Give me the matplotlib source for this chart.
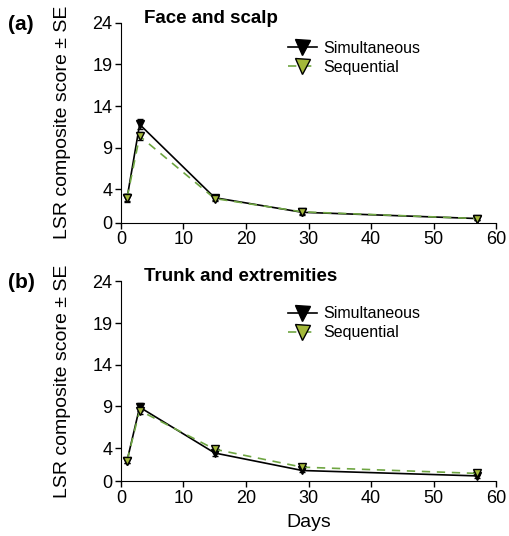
import numpy as np
import matplotlib.pyplot as plt

plt.rcParams['font.family'] = ['Liberation Sans', 'DejaVu Sans']

days = [1, 3, 15, 29, 57]

# Face and scalp
face_sim = [3.0, 11.8, 3.0, 1.25, 0.5]
face_sim_se = [0.5, 0.6, 0.3, 0.3, 0.2]
face_seq = [3.0, 10.4, 2.9, 1.3, 0.5]
face_seq_se = [0.4, 0.5, 0.3, 0.2, 0.2]

# Trunk and extremities
trunk_sim = [2.5, 8.9, 3.4, 1.3, 0.65]
trunk_sim_se = [0.3, 0.5, 0.3, 0.2, 0.2]
trunk_seq = [2.5, 8.5, 3.85, 1.7, 0.95]
trunk_seq_se = [0.3, 0.4, 0.3, 0.2, 0.2]

yticks = [0, 4, 9, 14, 19, 24]
green_face = '#a3b83a'
green_line = '#6fa642'

fig = plt.figure(figsize=(5.1, 5.36), dpi=100)
ax1 = fig.add_axes([0.237, 0.5845, 0.736, 0.373])
ax2 = fig.add_axes([0.237, 0.102, 0.736, 0.373])

panels = [
    (ax1, face_sim, face_sim_se, face_seq, face_seq_se, 'Face and scalp', '(a)', 0.91),
    (ax2, trunk_sim, trunk_sim_se, trunk_seq, trunk_seq_se, 'Trunk and extremities', '(b)', 0.875),
]

for ax, sim, sim_se, seq, seq_se, title, letter, leg_y in panels:
    ax.errorbar(days, sim, yerr=sim_se, color='black', lw=1.2, marker='v',
                ms=6, mfc='black', mec='black', capsize=2.5, elinewidth=1,
                label='Simultaneous', zorder=3)
    ax.errorbar(days, seq, yerr=seq_se, color=green_line, lw=1.2, ls=(0, (5, 4)),
                marker='v', ms=6, mfc=green_face, mec='black', mew=1,
                ecolor='black', capsize=2.5, elinewidth=1,
                label='Sequential', zorder=4)
    ax.set_xlim(0, 60)
    ax.set_ylim(0, 24)
    ax.set_yticks(yticks)
    ax.set_xticks(range(0, 61, 10))
    ax.spines['top'].set_visible(False)
    ax.spines['right'].set_visible(False)
    ax.tick_params(labelsize=13, length=4, width=1, pad=2)
    ax.set_ylabel('LSR composite score ± SE', fontsize=14)
    ax.yaxis.set_label_coords(-0.133, 0.5)
    ax.text(0.061, 1.0, title, transform=ax.transAxes, fontsize=13.5,
            fontweight='bold', va='baseline')
    ax.text(-0.3, 0.965, letter, transform=ax.transAxes, fontsize=15,
            fontweight='bold', va='baseline')
    handles, labels = ax.get_legend_handles_labels()
    handles = [h[0] for h in handles]
    ax.legend(handles, labels, loc='upper left', bbox_to_anchor=(0.445, leg_y),
              frameon=False, fontsize=11.5, handlelength=1.8, handletextpad=0.4,
              labelspacing=0.25, borderaxespad=0, borderpad=0, markerscale=1.8)

ax2.set_xlabel('Days', fontsize=14, labelpad=5)

fig.savefig('out.png', dpi=100)
